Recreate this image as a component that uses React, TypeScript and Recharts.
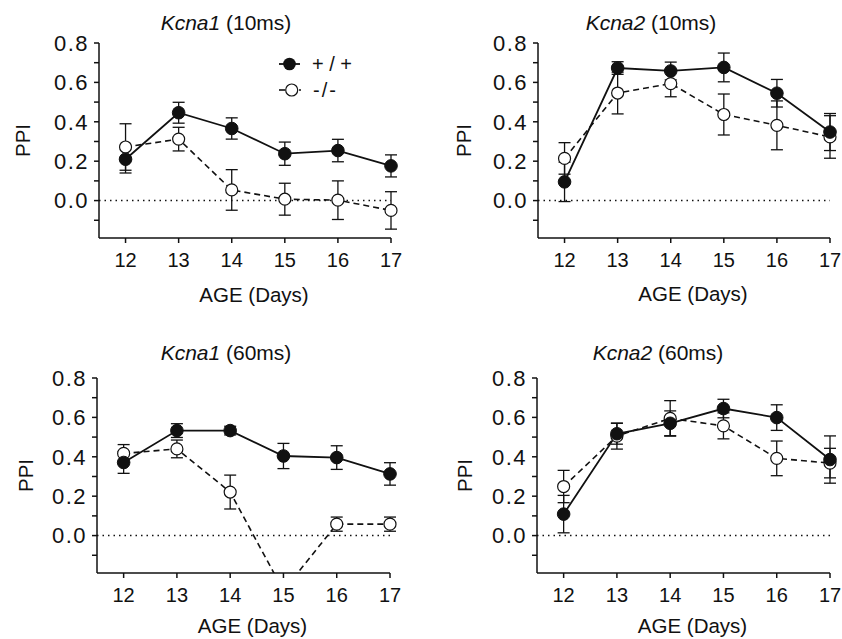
import React from 'react';
import {
  LineChart,
  Line,
  XAxis,
  YAxis,
  ErrorBar,
  ReferenceLine,
} from 'recharts';

// age in days (x axis)
const days = [12, 13, 14, 15, 16, 17];
const yTicks = [-0.1, 0, 0.1, 0.2, 0.3, 0.4, 0.5, 0.6, 0.7, 0.8];

// Kcna1 (10ms)
const kcna1Short_wt = [0.21, 0.446, 0.366, 0.238, 0.254, 0.176];
const kcna1Short_wtErr = [0.07, 0.053, 0.054, 0.059, 0.057, 0.056];
const kcna1Short_ko = [0.272, 0.312, 0.054, 0.007, 0.002, -0.05];
const kcna1Short_koErr = [0.118, 0.06, 0.103, 0.081, 0.098, 0.095];

// Kcna2 (10ms)
const kcna2Short_wt = [0.095, 0.673, 0.658, 0.676, 0.545, 0.348];
const kcna2Short_wtErr = [0.1, 0.032, 0.045, 0.073, 0.07, 0.094];
const kcna2Short_ko = [0.214, 0.546, 0.594, 0.437, 0.382, 0.323];
const kcna2Short_koErr = [0.08, 0.106, 0.067, 0.104, 0.124, 0.108];

// Kcna1 (60ms)
const kcna1Long_wt = [0.371, 0.533, 0.533, 0.404, 0.396, 0.313];
const kcna1Long_wtErr = [0.055, 0.035, 0.022, 0.064, 0.06, 0.057];
const kcna1Long_ko = [0.417, 0.44, 0.221, -0.28, 0.058, 0.058];
const kcna1Long_koErr = [0.045, 0.045, 0.086, 0, 0.036, 0.036];

// Kcna2 (60ms)
const kcna2Long_wt = [0.109, 0.517, 0.57, 0.645, 0.599, 0.386];
const kcna2Long_wtErr = [0.095, 0.053, 0.063, 0.047, 0.065, 0.12];
const kcna2Long_ko = [0.249, 0.505, 0.595, 0.557, 0.392, 0.368];
const kcna2Long_koErr = [0.082, 0.066, 0.09, 0.066, 0.088, 0.075];

const toRows = (wt: number[], wtErr: number[], ko: number[], koErr: number[]) =>
  days.map((day, i) => ({ day, wt: wt[i], wtErr: wtErr[i], ko: ko[i], koErr: koErr[i] }));

const FONT = '"Liberation Sans", Arial, Helvetica, sans-serif';
const INK = '#111';

// panel layout (pixels inside each panel)
const panels = [
  {
    gene: 'Kcna1', pulse: '(10ms)',
    rows: toRows(kcna1Short_wt, kcna1Short_wtErr, kcna1Short_ko, kcna1Short_koErr),
    left: 0, top: 0, h: 320, axisX: 99, plotRight: 391, plotTop: 43, plotBottom: 238,
    titleCx: 226, titleCy: 23, ppiX: 22, ageCy: 294, legend: true,
  },
  {
    gene: 'Kcna2', pulse: '(10ms)',
    rows: toRows(kcna2Short_wt, kcna2Short_wtErr, kcna2Short_ko, kcna2Short_koErr),
    left: 421, top: 0, h: 320, axisX: 117, plotRight: 409, plotTop: 43, plotBottom: 238,
    titleCx: 230, titleCy: 23, ppiX: 42, ageCy: 293, legend: false,
  },
  {
    gene: 'Kcna1', pulse: '(60ms)',
    rows: toRows(kcna1Long_wt, kcna1Long_wtErr, kcna1Long_ko, kcna1Long_koErr),
    left: 0, top: 320, h: 319, axisX: 97, plotRight: 390, plotTop: 58, plotBottom: 253,
    titleCx: 226, titleCy: 33, ppiX: 25, ageCy: 305, legend: false,
  },
  {
    gene: 'Kcna2', pulse: '(60ms)',
    rows: toRows(kcna2Long_wt, kcna2Long_wtErr, kcna2Long_ko, kcna2Long_koErr),
    left: 421, top: 320, h: 319, axisX: 116, plotRight: 409, plotTop: 58, plotBottom: 253,
    titleCx: 237, titleCy: 33, ppiX: 43, ageCy: 305, legend: false,
  },
];

const X_AXIS_H = 30;

function Panel({ p }: { p: (typeof panels)[number] }) {
  const midY = (p.plotTop + p.plotBottom) / 2;
  const ageX = (p.axisX + p.plotRight) / 2 + 9;

  return (
    <div style={{ position: 'absolute', left: p.left, top: p.top, width: 421, height: p.h }}>
      <div
        style={{
          position: 'absolute', left: p.titleCx - 100, top: p.titleCy - 12, width: 200,
          textAlign: 'center', fontSize: 21, lineHeight: '24px', color: INK,
        }}
      >
        <i>{p.gene}</i> {p.pulse}
      </div>
      <LineChart
        width={421}
        height={p.h}
        data={p.rows}
        margin={{ top: p.plotTop, right: 421 - p.plotRight, bottom: p.h - p.plotBottom - X_AXIS_H, left: 0 }}
      >
        <XAxis
          type="number"
          dataKey="day"
          domain={[11.5, 17]}
          ticks={days}
          height={X_AXIS_H}
          stroke={INK}
          strokeWidth={1.5}
          tickSize={5}
          tickMargin={10}
          tick={{ fill: INK, fontSize: 20 }}
          label={{
            value: 'AGE (Days)',
            content: () => (
              <text x={ageX} y={p.ageCy} textAnchor="middle" dominantBaseline="central" fontSize={20.5} fill={INK}>
                AGE (Days)
              </text>
            ),
          }}
        />
        <YAxis
          type="number"
          domain={[-0.19, 0.8]}
          allowDataOverflow
          ticks={yTicks}
          interval={0}
          width={p.axisX}
          stroke={INK}
          strokeWidth={1.5}
          tickSize={5}
          tickMargin={5}
          tick={{ fill: INK, fontSize: 22, letterSpacing: 1.5 }}
          tickFormatter={(v: number) => (Math.round(v * 10) % 2 === 0 ? v.toFixed(1) : '')}
          label={{
            value: 'PPI',
            content: () => (
              <text
                x={p.ppiX}
                y={midY}
                textAnchor="middle"
                dominantBaseline="central"
                fontSize={20.5}
                fill={INK}
                transform={`rotate(-90 ${p.ppiX} ${midY})`}
              >
                PPI
              </text>
            ),
          }}
        />
        <ReferenceLine y={0} stroke={INK} strokeWidth={1.5} strokeDasharray="1.5 4" />

        {/* -/- : open circles, dashed */}
        <Line
          dataKey="ko"
          stroke={INK}
          strokeWidth={1.6}
          strokeDasharray="6 4"
          dot={{ r: 6, fill: '#fff', stroke: INK, strokeWidth: 1.2, strokeDasharray: 'none' }}
          isAnimationActive={false}
        >
          <ErrorBar dataKey="koErr" direction="y" width={6} stroke={INK} strokeWidth={1.3} />
        </Line>

        {/* +/+ : filled circles, solid */}
        <Line
          dataKey="wt"
          stroke={INK}
          strokeWidth={1.8}
          dot={{ r: 6.3, fill: INK, stroke: INK, strokeWidth: 1 }}
          isAnimationActive={false}
        >
          <ErrorBar dataKey="wtErr" direction="y" width={6} stroke={INK} strokeWidth={1.3} />
        </Line>
      </LineChart>

      {p.legend && (
        <svg style={{ position: 'absolute', left: 270, top: 48, overflow: 'visible' }} width={110} height={55}>
          <line x1={9} y1={16} x2={30} y2={16} stroke={INK} strokeWidth={1.8} />
          <circle cx={19.5} cy={16} r={6.3} fill={INK} />
          <text x={42} y={16} dominantBaseline="central" fontSize={20} fill={INK}>+ / +</text>
          <line x1={9} y1={42} x2={15} y2={42} stroke={INK} strokeWidth={1.6} />
          <circle cx={21.7} cy={42} r={6} fill="#fff" stroke={INK} strokeWidth={1.2} />
          <line x1={29} y1={42} x2={31} y2={42} stroke={INK} strokeWidth={1.6} />
          <text x={43} y={42} dominantBaseline="central" fontSize={20} fill={INK} letterSpacing={2}>-/-</text>
        </svg>
      )}
    </div>
  );
}

export default function App() {
  return (
    <div
      style={{
        position: 'absolute', left: 0, top: 0, width: 842, height: 639,
        background: '#fff', fontFamily: FONT, color: INK,
      }}
    >
      {panels.map((p) => (
        <Panel key={`${p.gene}${p.pulse}`} p={p} />
      ))}
    </div>
  );
}
